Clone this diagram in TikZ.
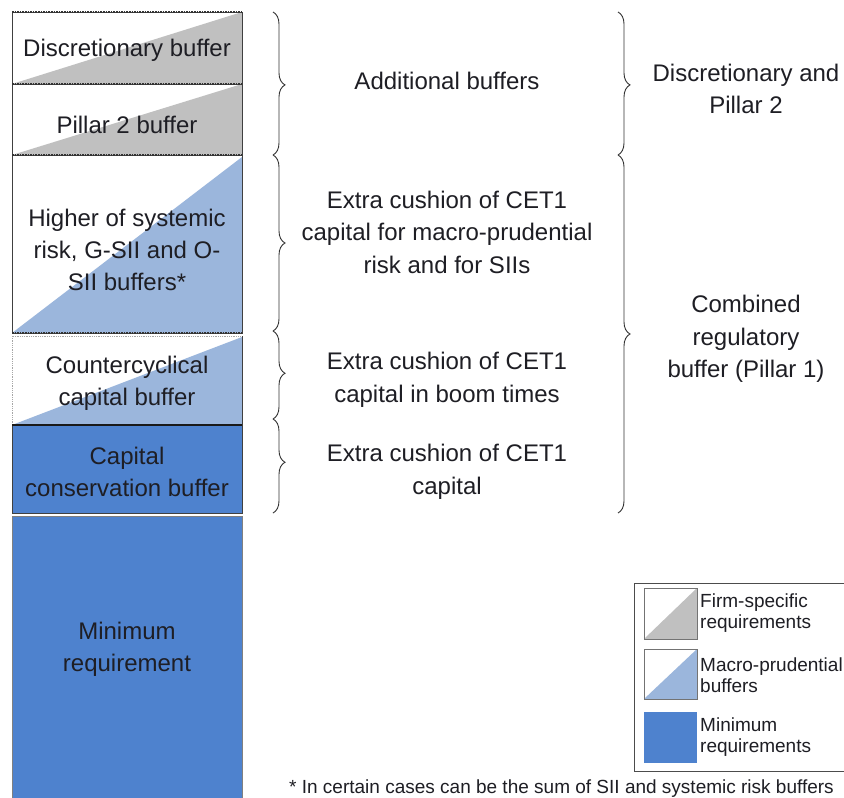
\documentclass[tikz,border=0pt]{standalone}
\usepackage{fontspec}
\setmainfont{Liberation Sans}
\usetikzlibrary{decorations.pathreplacing}
\definecolor{firmgray}{RGB}{192,192,192}
\definecolor{macroblue}{RGB}{155,182,220}
\definecolor{minblue}{RGB}{78,130,206}
\definecolor{txt}{RGB}{30,30,36}
\tikzset{
  boxline/.style={draw=black!75, line width=0.8pt},
  dotline/.style={draw=black!80, line width=1.6pt, densely dotted},
  boxtext/.style={font=\fontsize{24}{32}\selectfont, text=txt, align=center, inner sep=0pt},
  sidetext/.style={font=\fontsize{24}{32.5}\selectfont, text=txt, align=center, inner sep=0pt},
  legtext/.style={font=\fontsize{19}{21}\selectfont, text=txt, align=left, anchor=west, inner sep=0pt},
  bracebig/.style={draw=black!80, line width=0.9pt, decorate, decoration={brace, amplitude=12pt, aspect=#1}},
}
\begin{document}
\begin{tikzpicture}[x=1pt, y=-1pt]
\useasboundingbox (0,0) rectangle (844,798);
\fill[white] (0,0) rectangle (844,798);
% Discretionary buffer
\fill[firmgray] (12,84) -- (242,12) -- (242,84) -- cycle;
\draw[boxline] (12,12) rectangle (242,84);
% Pillar 2 buffer
\fill[firmgray] (12,155) -- (242,84) -- (242,155) -- cycle;
\draw[boxline] (12,84) rectangle (242,155);
% Higher of systemic ...
\fill[macroblue] (12,333) -- (242,157) -- (242,333) -- cycle;
\draw[boxline] (12,155) rectangle (242,333);
% Countercyclical
\fill[macroblue] (12,425) -- (242,337) -- (242,425) -- cycle;
\draw[draw=black!35, line width=0.8pt, densely dotted] (12,425) -- (12,336) -- (242,336);
\draw[boxline] (242,336) -- (242,425);
% Capital conservation
\fill[minblue] (12,425) rectangle (242,513);
\draw[boxline] (12,425) rectangle (242,513);
\draw[draw=black!90, line width=1.4pt] (12,425) -- (242,425);
% Minimum
\fill[minblue] (12,516) rectangle (242,805);
\draw[draw=black!50, line width=0.8pt] (12,805) -- (12,516) -- (242,516) -- (242,805);
% dotted separators
\draw[dotline] (12,12) -- (242,12);
\draw[dotline] (12,84) -- (242,84);
\draw[dotline] (12,155) -- (242,155);
\draw[dotline] (12,333) -- (242,333);

% box texts
\node[boxtext] (disc) at (127,50) {Discretionary buffer};
\node[boxtext] (p2) at (127,125) {Pillar 2 buffer};
\node[boxtext] (sys) at (127,250) {Higher of systemic\\risk, G-SII and O-\\SII buffers*};
\node[boxtext] (ccyb) at (127,383) {Countercyclical\\capital buffer};
\node[boxtext] (ccb) at (127,472) {Capital\\conservation buffer};
\node[boxtext] (min) at (127,649) {Minimum\\requirement};

% first column braces
\coordinate (b1t) at (273,12);  \coordinate (b1b) at (273,155);
\coordinate (b2t) at (273,155); \coordinate (b2b) at (273,331);
\coordinate (b3t) at (273,331); \coordinate (b3b) at (273,419);
\coordinate (b4t) at (273,419); \coordinate (b4b) at (273,513);
\draw[bracebig=0.51] (b1t) -- (b1b);
\draw[bracebig=0.5] (b2t) -- (b2b);
\draw[bracebig=0.48] (b3t) -- (b3b);
\draw[bracebig=0.46] (b4t) -- (b4b);

\node[sidetext] (add) at (447,81) {Additional buffers};
\node[sidetext] (macro) at (447,232) {Extra cushion of CET1\\capital for macro-prudential\\risk and for SIIs};
\node[sidetext] (boom) at (447,380) {Extra cushion of CET1\\capital in boom times};
\node[sidetext] (cet) at (447,472) {Extra cushion of CET1\\capital};

% second column braces
\coordinate (c1t) at (618,12);  \coordinate (c1b) at (618,155);
\coordinate (c2t) at (618,155); \coordinate (c2b) at (618,513);
\draw[bracebig=0.51] (c1t) -- (c1b);
\draw[bracebig=0.5] (c2t) -- (c2b);

\node[sidetext] (dp2) at (746,89) {Discretionary and\\Pillar 2};
\node[sidetext] (crb) at (746,339) {Combined\\regulatory\\buffer (Pillar 1)};

% legend
\draw[draw=black!70, line width=0.9pt] (634,583) rectangle (852,771);
\fill[white] (644,588) rectangle (697,639);
\fill[firmgray] (644,639) -- (697,588) -- (697,639) -- cycle;
\draw[draw=black!55, line width=0.7pt] (644,588) rectangle (697,639);
\fill[macroblue] (644,699) -- (697,649) -- (697,699) -- cycle;
\draw[draw=black!55, line width=0.7pt] (644,649) rectangle (697,699);
\fill[minblue] (644,712) rectangle (697,763);
\node[legtext] (lg1) at (700,613) {Firm-specific\\requirements};
\node[legtext] (lg2) at (700,675) {Macro-prudential\\buffers};
\node[legtext] (lg3) at (700,737) {Minimum\\requirements};

\node[font=\fontsize{19}{20}\selectfont, text=txt, anchor=west, inner sep=0pt] (foot) at (289,789) {* In certain cases can be the sum of SII and systemic risk buffers};
\end{tikzpicture}
\end{document}
